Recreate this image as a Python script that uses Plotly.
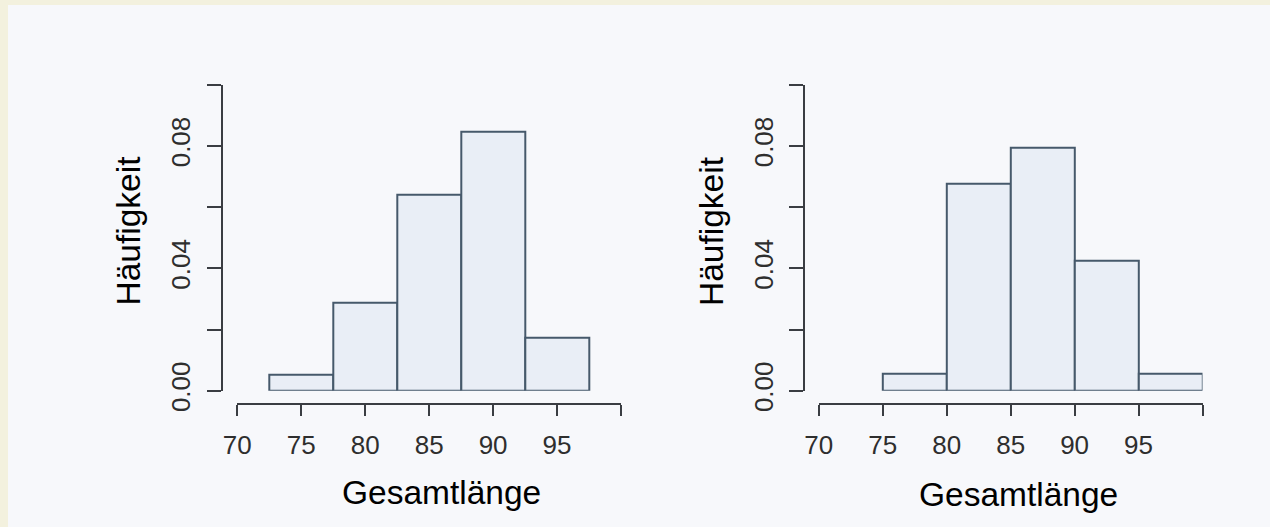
import plotly.graph_objects as go

# ---- data ----
bin_width = 5
left_bin_starts = [72.5, 77.5, 82.5, 87.5, 92.5]
left_density = [0.0053, 0.0286, 0.0640, 0.0847, 0.0174]

right_bin_starts = [75, 80, 85, 90, 95]
right_density = [0.0055, 0.0676, 0.0794, 0.0425, 0.0055]

x_tickvals = [70, 75, 80, 85, 90, 95, 100]
x_ticktext = ["70", "75", "80", "85", "90", "95", ""]
y_tickvals = [0.0, 0.02, 0.04, 0.06, 0.08, 0.10]
y_ticktext = ["0.00", "", "0.04", "", "0.08", ""]

x_title = "Gesamtlänge"
y_title = "Häufigkeit"

W, H = 1270, 527
FONT = "Liberation Sans, Arial, sans-serif"
AXIS_COL = "#3a3d42"
BAR_LINE = "#46596b"
BAR_FILL = "#e9eef6"


def px_x(v):
    return v / W


def px_y(v):
    return (H - v) / H


fig = go.Figure()

fig.add_trace(go.Bar(x=left_bin_starts, y=left_density, width=bin_width, offset=0,
                     marker=dict(color=BAR_FILL, line=dict(color=BAR_LINE, width=2)),
                     xaxis="x", yaxis="y", showlegend=False))
fig.add_trace(go.Bar(x=right_bin_starts, y=right_density, width=bin_width, offset=0,
                     marker=dict(color=BAR_FILL, line=dict(color=BAR_LINE, width=2)),
                     xaxis="x2", yaxis="y2", showlegend=False))

common_x = dict(range=[70, 100], tickvals=x_tickvals, ticktext=x_ticktext,
                showline=True, linecolor=AXIS_COL, linewidth=2, ticks="outside",
                ticklen=11, tickwidth=2, tickcolor=AXIS_COL, showgrid=False,
                zeroline=False, anchor="free", ticklabelstandoff=7, automargin=False,
                tickfont=dict(family=FONT, size=26, color="#2e2e2e"), fixedrange=True)
common_y = dict(range=[0, 0.10], tickvals=y_tickvals, ticktext=y_ticktext,
                showline=True, linecolor=AXIS_COL, linewidth=2, ticks="outside",
                ticklen=14, tickwidth=2, tickcolor=AXIS_COL, showgrid=False,
                zeroline=False, anchor="free", tickangle=-90, ticklabelstandoff=6,
                automargin=False,
                tickfont=dict(family=FONT, size=26, color="#2e2e2e"), fixedrange=True)

y_dom = [px_y(390.7), px_y(84.7)]

fig.update_layout(
    template="none",
    width=W, height=H,
    margin=dict(l=0, r=0, t=0, b=0, pad=0, autoexpand=False),
    paper_bgcolor="#f3f1de",
    plot_bgcolor="rgba(0,0,0,0)",
    bargap=0,
    xaxis=dict(common_x, domain=[px_x(237.3), px_x(621)], position=px_y(403.5)),
    yaxis=dict(common_y, domain=y_dom, position=px_x(221.7)),
    xaxis2=dict(common_x, domain=[px_x(818.8), px_x(1202.5)], position=px_y(404)),
    yaxis2=dict(common_y, domain=y_dom, position=px_x(804)),
    shapes=[dict(type="rect", xref="paper", yref="paper", x0=px_x(8), x1=1,
                 y0=0, y1=px_y(5), fillcolor="#f7f8fb", line=dict(width=0),
                 layer="below")],
    annotations=[
        dict(text=x_title, xref="paper", yref="paper", x=px_x(441), y=px_y(492),
             showarrow=False, font=dict(family=FONT, size=33.5, color="#000"),
             xanchor="center", yanchor="middle"),
        dict(text=x_title, xref="paper", yref="paper", x=px_x(1018), y=px_y(494),
             showarrow=False, font=dict(family=FONT, size=33.5, color="#000"),
             xanchor="center", yanchor="middle"),
        dict(text=y_title, xref="paper", yref="paper", x=px_x(127.5), y=px_y(231),
             showarrow=False, textangle=-90, font=dict(family=FONT, size=33.5, color="#000"),
             xanchor="center", yanchor="middle"),
        dict(text=y_title, xref="paper", yref="paper", x=px_x(711), y=px_y(231),
             showarrow=False, textangle=-90, font=dict(family=FONT, size=33.5, color="#000"),
             xanchor="center", yanchor="middle"),
    ],
)

fig.write_html(
    "out.html",
    config={"displayModeBar": False},
    post_script="document.body.style.margin='0';document.body.style.overflow='hidden';",
)
